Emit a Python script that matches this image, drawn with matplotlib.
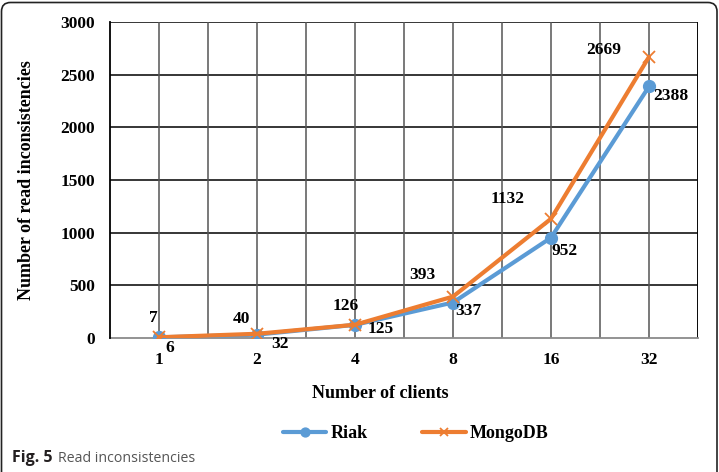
import numpy as np
import matplotlib
matplotlib.use("Agg")
import matplotlib.pyplot as plt
from matplotlib.patches import FancyBboxPatch

clients = ["1", "2", "4", "8", "16", "32"]
riak = [6, 32, 125, 337, 952, 2388]
mongodb = [7, 40, 126, 393, 1132, 2669]

# label offsets in pixels (dx, dy), dy positive = up
riak_off = [(11, -11), (23, -9), (26, -4), (15, -8), (14, -13), (22, -10)]
mongo_off = [(-6, 19), (-16, 15), (-9, 19), (-31, 22), (-43, 20), (-45, 7)]

BLUE = "#5B9BD5"
ORANGE = "#ED7D31"
serif = "Liberation Serif"

fig = plt.figure(figsize=(7.19, 4.72), dpi=100)
ax = fig.add_axes([110 / 719, 134 / 472, 588 / 719, 316 / 472])

x = np.arange(len(clients))
ax.plot(x, riak, color=BLUE, lw=3.0, marker="o", ms=8.5, label="Riak",
        solid_capstyle="round", zorder=3)
ax.plot(x, mongodb, color=ORANGE, lw=3.0, marker="x", ms=8, mew=1.3,
        label="MongoDB", solid_capstyle="round", zorder=4)

px = 0.72  # points per pixel at 100 dpi
for xi, v, (dx, dy) in zip(x, riak, riak_off):
    ax.annotate(str(v), (xi, v), xytext=(dx * px, dy * px), textcoords="offset points",
                ha="center", va="center", fontsize=12.5, fontweight="bold",
                family=serif, zorder=5)
for xi, v, (dx, dy) in zip(x, mongodb, mongo_off):
    ax.annotate(str(v), (xi, v), xytext=(dx * px, dy * px), textcoords="offset points",
                ha="center", va="center", fontsize=12.5, fontweight="bold",
                family=serif, zorder=5)

ax.set_xlim(-0.5, len(clients) - 0.5)
ax.set_ylim(0, 3000)
ax.set_yticks(np.arange(0, 3001, 500))
ax.set_xticks(x)
ax.set_xticklabels(clients)

# grid: horizontal black, vertical gray at half-category steps
for yv in np.arange(500, 3001, 500):
    ax.axhline(yv, color="black", lw=1.1, zorder=1)
for xv in np.arange(0, len(clients), 0.5):
    ax.axvline(xv, color="#555555", lw=1.1, zorder=1)

for s in ["top", "right"]:
    ax.spines[s].set_visible(False)
ax.spines["left"].set_color("black")
ax.spines["left"].set_linewidth(1.3)
ax.spines["bottom"].set_color("#8a8a8a")
ax.spines["bottom"].set_linewidth(1.3)
ax.spines["bottom"].set_zorder(2)
ax.axvline(len(clients) - 0.5, color="black", lw=1.3, zorder=1)

ax.tick_params(length=0, pad=10)
ax.tick_params(axis="y", pad=11)
for lab in ax.get_xticklabels() + ax.get_yticklabels():
    lab.set_family(serif)
    lab.set_fontweight("bold")
    lab.set_fontsize(12.5)

ax.set_xlabel("Number of clients", family=serif, fontweight="bold", fontsize=13)
ax.xaxis.set_label_coords((380 - 110) / 588, -(385 - 338) / 316)
fig.text(27 / 719, 1 - 180 / 472, "Number of read inconsistencies", rotation=90,
         ha="center", va="center", family=serif, fontweight="bold", fontsize=13)

leg = fig.legend(loc="center", bbox_to_anchor=(416 / 719, 1 - 434 / 472), ncol=2,
                 frameon=False, handlelength=2.4, columnspacing=3.0,
                 prop={"family": serif, "weight": "bold", "size": 13},
                 handletextpad=0.25, markerscale=0.75)

fig.text(12 / 719, 1 - 458 / 472, "Fig. 5", family="Open Sans", fontweight="bold",
         fontsize=11.5, color="#231f20", va="center")
fig.text(58 / 719, 1 - 458 / 472, "Read inconsistencies", family="Open Sans",
         fontsize=10.2, color="#555555", va="center")

frame = FancyBboxPatch((1.5, -20), 715.5, 489.5, boxstyle="round,pad=0,rounding_size=9",
                       transform=None, fill=False, edgecolor="#222222", lw=1.2)
fig.patches.append(frame)

fig.savefig("out.png", dpi=100)
